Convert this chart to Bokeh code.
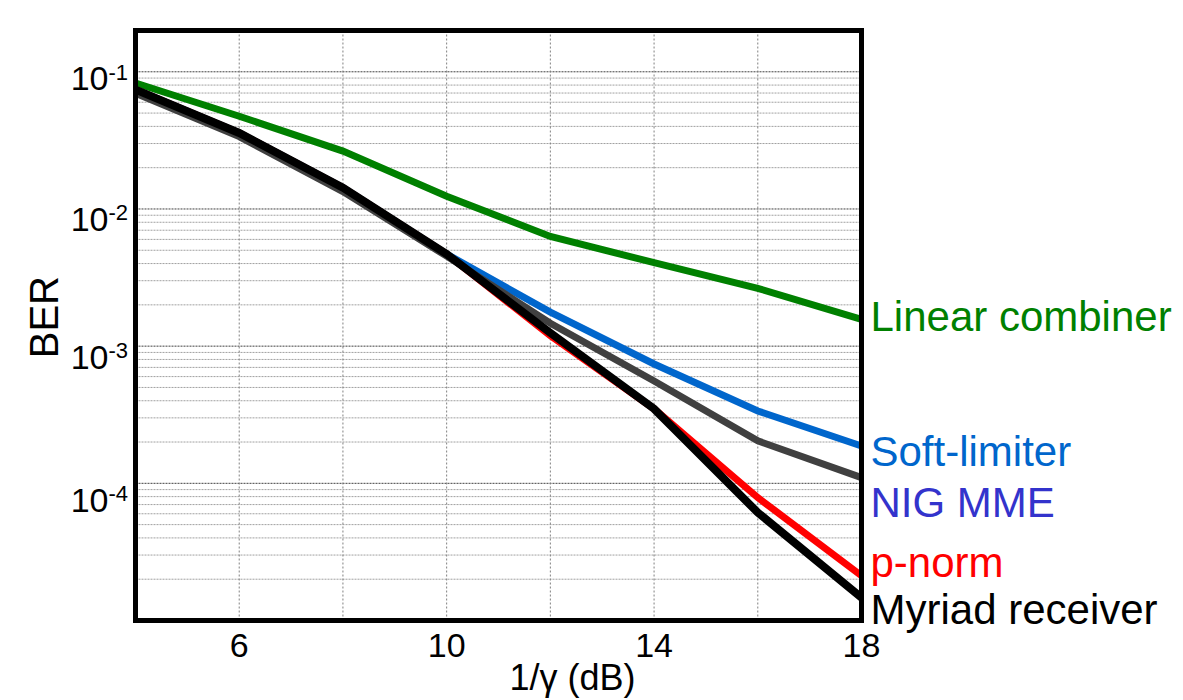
from math import pi, log10
from bokeh.plotting import figure
from bokeh.models import Range1d, ColumnDataSource
from bokeh.core.properties import value
from bokeh.embed import file_html
from bokeh.resources import INLINE

# ---------------- data ----------------
snr_db = [4, 6, 8, 10, 12, 14, 16, 18]

linear_combiner = [0.0829, 0.0474, 0.0264, 0.0124, 0.0063, 0.00406, 0.00264, 0.00157]
soft_limiter    = [0.0742, 0.0358, 0.0143, 0.00469, 0.00177, 0.000741, 0.000337, 0.000187]
nig_mme         = [0.0697, 0.0337, 0.0134, 0.00453, 0.00147, 0.000557, 0.000204, 0.000110]
p_norm          = [0.0742, 0.0358, 0.0143, 0.00469, 0.00119, 0.000349, 0.0000787, 0.0000212]
myriad          = [0.0742, 0.0358, 0.0143, 0.00469, 0.00125, 0.000349, 0.0000612, 0.0000147]

series_names = ["Linear combiner", "Soft-limiter", "NIG MME", "p-norm", "Myriad receiver"]

x_ticks = [6, 10, 14, 18]
x_tick_labels = ["6", "10", "14", "18"]
x_grid = [6, 8, 10, 12, 14, 16]
y_decades = [1e-1, 1e-2, 1e-3, 1e-4]
y_tick_base = ["10", "10", "10", "10"]
y_tick_exp = ["-1", "-2", "-3", "-4"]

x_title = "1/\u03b3 (dB)"
y_title = "BER"

X_MIN, X_MAX = 4, 18
Y_MIN, Y_MAX = 1e-5, 0.2

# ---------------- layout / styling ----------------
W, H = 1183, 700
BOX_L, BOX_R, BOX_T, BOX_B = 135, 861, 30, 620   # plot box in canvas pixels
FONT = "Liberation Sans"
MID = 0.35  # distance from text baseline to its vertical middle, in em

line_colors = {"Linear combiner": "#008000", "Soft-limiter": "#0066cc",
               "NIG MME": "#404040", "p-norm": "#ff0000", "Myriad receiver": "#000000"}
label_colors = {"Linear combiner": "#008000", "Soft-limiter": "#0066cc",
                "NIG MME": "#3333cc", "p-norm": "#ff0000", "Myriad receiver": "#000000"}
line_widths = {"Linear combiner": 7, "Soft-limiter": 7, "NIG MME": 7,
               "p-norm": 7, "Myriad receiver": 8}
# baseline offsets (px, downward) of the end labels from the line ends
label_dy = {"Linear combiner": 12, "Soft-limiter": 20, "NIG MME": 40,
            "p-norm": 1, "Myriad receiver": 27}
ytick_dy = [19, 22, 23, 29]   # baseline of "10" below its grid line

FS_LABEL, FS_TICK, FS_SUP, FS_XT, FS_YT = 42, 34, 22, 36, 40

# scales: the plot box maps X_MIN..X_MAX / Y_MIN..Y_MAX, the margins extend the ranges
ppx = (BOX_R - BOX_L) / (X_MAX - X_MIN)
ppd = (BOX_B - BOX_T) / (log10(Y_MAX) - log10(Y_MIN))
x_range = Range1d(X_MIN - BOX_L / ppx, X_MAX + (W - BOX_R) / ppx)
y_range = Range1d(10 ** (log10(Y_MIN) - (H - BOX_B) / ppd), 10 ** (log10(Y_MAX) + BOX_T / ppd))

p = figure(width=W, height=H, x_range=x_range, y_range=y_range, y_axis_type="log",
           x_axis_location=None, y_axis_location=None,
           output_backend="svg", toolbar_location=None,
           min_border_left=0, min_border_right=0, min_border_top=0, min_border_bottom=0)
p.outline_line_color = None
p.background_fill_color = "white"
p.border_fill_color = "white"
p.grid.visible = False

# ---- grid lines ----
minor = []
for d in y_decades + [Y_MIN]:
    for m in range(2, 10):
        if d * m < Y_MAX:
            minor.append(d * m)
p.segment(x0=X_MIN, x1=X_MAX, y0=minor, y1=minor, line_color="#a0a0a0",
          line_width=1, line_dash="2 1")
p.segment(x0=X_MIN, x1=X_MAX, y0=y_decades, y1=y_decades, line_color="#404040",
          line_width=1, line_dash="2 1")
p.segment(x0=x_grid, x1=x_grid, y0=Y_MIN, y1=Y_MAX, line_color="#808080",
          line_width=1, line_dash="2 2")

# ---- curves ----
data = {"Linear combiner": linear_combiner, "Soft-limiter": soft_limiter,
        "NIG MME": nig_mme, "p-norm": p_norm, "Myriad receiver": myriad}
for name in ["Linear combiner", "Soft-limiter", "p-norm", "NIG MME", "Myriad receiver"]:
    p.line(snr_db, data[name], line_color=line_colors[name],
           line_width=line_widths[name], line_join="miter")

# ---- plot box ----
p.quad(left=X_MIN, right=X_MAX, bottom=Y_MIN, top=Y_MAX, fill_color=None,
       line_color="black", line_width=5, line_join="miter")

# ---- end-of-line labels ----
lab = ColumnDataSource(dict(
    x=[snr_db[-1]] * len(series_names),
    y=[data[n][-1] for n in series_names],
    text=series_names,
    color=[label_colors[n] for n in series_names],
    dy=[label_dy[n] - MID * FS_LABEL for n in series_names],
))
p.text(x="x", y="y", text="text", source=lab, text_color="color", y_offset="dy",
       x_offset=9, text_font=value(FONT), text_font_size=value(f"{FS_LABEL}px"),
       text_align="left", text_baseline="middle")

# ---- y tick labels: 10 with superscript exponent ----
p.text(x=[X_MIN] * 4, y=y_decades, text=y_tick_base, x_offset=-27,
       y_offset=[d - MID * FS_TICK for d in ytick_dy],
       text_font=value(FONT), text_font_size=value(f"{FS_TICK}px"), text_color="black",
       text_align="right", text_baseline="middle")
p.text(x=[X_MIN] * 4, y=y_decades, text=y_tick_exp, x_offset=-27,
       y_offset=[d - 11 - MID * FS_SUP for d in ytick_dy],
       text_font=value(FONT), text_font_size=value(f"{FS_SUP}px"), text_color="black",
       text_align="left", text_baseline="middle")

# ---- x tick labels ----
p.text(x=x_ticks, y=[Y_MIN] * len(x_ticks), text=x_tick_labels, y_offset=37 - MID * FS_TICK,
       text_font=value(FONT), text_font_size=value(f"{FS_TICK}px"), text_color="black",
       text_align="center", text_baseline="middle")

# ---- axis titles ----
p.text(x=[(X_MIN + X_MAX) / 2], y=[Y_MIN], text=[x_title], x_offset=74,
       y_offset=70 - MID * FS_XT,
       text_font=value(FONT), text_font_size=value(f"{FS_XT}px"), text_color="black",
       text_align="center", text_baseline="middle")
p.text(x=[X_MIN], y=[1e-3], text=[y_title], x_offset=-92, y_offset=-29, angle=pi / 2,
       text_font=value(FONT), text_font_size=value(f"{FS_YT}px"), text_color="black",
       text_align="center", text_baseline="middle")

open("out.html", "w").write(file_html(p, INLINE))
